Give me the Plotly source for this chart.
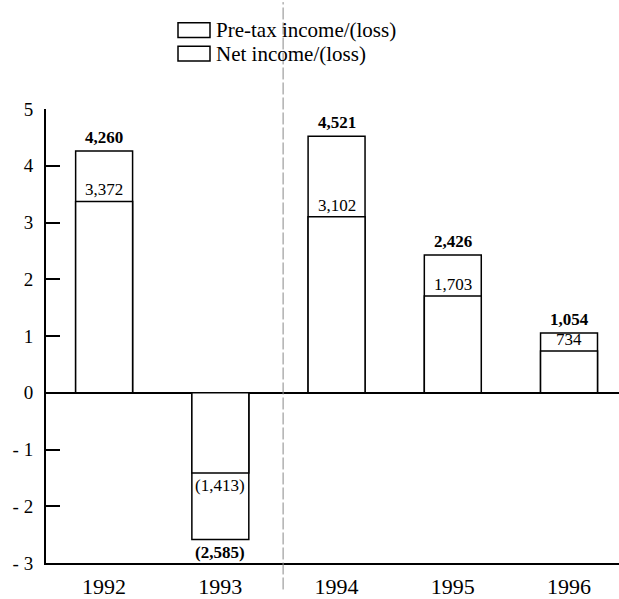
import plotly.graph_objects as go

# Results in $ thousands, shown on the axis in $ millions
years = ["1992", "1993", "1994", "1995", "1996"]
pretax_income = [4260, -2585, 4521, 2426, 1054]
net_income = [3372, -1413, 3102, 1703, 734]

y_tick_values = [-3, -2, -1, 0, 1, 2, 3, 4, 5]
y_tick_labels = ["- 3", "- 2", "- 1", "0", "1", "2", "3", "4", "5"]

legend_labels = ["Pre-tax income/(loss)", "Net income/(loss)"]

SERIF = "Liberation Serif, Times New Roman, serif"
W, H = 619, 599
M_L, M_R, M_T, M_B = 46, 0, 109, 27
X_RANGE = [-0.5, 4.43]


def fmt(v):
    s = f"{abs(v):,}"
    return f"({s})" if v < 0 else s


def px_to_paper_x(px):
    return (px - M_L) / (W - M_L - M_R)


def px_to_paper_y(py):
    return (H - M_B - py) / (H - M_T - M_B)


xs = list(range(len(years)))
pre_m = [v / 1000 for v in pretax_income]
net_m = [v / 1000 for v in net_income]

fig = go.Figure()
bar_style = dict(marker=dict(color="white", line=dict(color="black", width=1.5)),
                 width=0.49, showlegend=False, hoverinfo="skip")
fig.add_trace(go.Bar(x=xs, y=pre_m, name=legend_labels[0], **bar_style))
fig.add_trace(go.Bar(x=xs, y=net_m, name=legend_labels[1], **bar_style))

annotations = []
for x, p, n, pv, nv in zip(xs, pre_m, net_m, pretax_income, net_income):
    pos = p >= 0
    annotations.append(dict(
        x=x, y=p, xref="x", yref="y", text=f"<b>{fmt(pv)}</b>", showarrow=False,
        yanchor="bottom" if pos else "top", yshift=2 if pos else -2,
        font=dict(family=SERIF, size=17, color="black")))
    annotations.append(dict(
        x=x, y=n, xref="x", yref="y", text=fmt(nv), showarrow=False,
        yanchor="bottom" if n >= 0 else "top", yshift=0 if n >= 0 else -1,
        font=dict(family=SERIF, size=17, color="black")))

# Hand-drawn legend: outlined boxes with labels
shapes = []
legend_rows = [(21, 36), (45, 60)]
for (top, bot), label in zip(legend_rows, legend_labels):
    shapes.append(dict(type="rect", xref="paper", yref="paper",
                       x0=px_to_paper_x(178), x1=px_to_paper_x(210),
                       y0=px_to_paper_y(bot), y1=px_to_paper_y(top),
                       line=dict(color="black", width=1.5), fillcolor="white"))
    annotations.append(dict(x=px_to_paper_x(215), y=px_to_paper_y((top + bot) / 2),
                            xref="paper", yref="paper", xanchor="left", yanchor="middle",
                            text=label, showarrow=False, borderpad=0,
                            font=dict(family=SERIF, size=21, color="black")))

# Dashed divider between 1993 and 1994
shapes.append(dict(type="line", xref="x", yref="paper", x0=1.54, x1=1.54,
                   y0=px_to_paper_y(H), y1=px_to_paper_y(0),
                   line=dict(color="#888888", width=1, dash="12px,3px")))

fig.update_layout(
    width=W, height=H,
    margin=dict(l=M_L, r=M_R, t=M_T, b=M_B),
    paper_bgcolor="white", plot_bgcolor="white",
    barmode="overlay",
    annotations=annotations, shapes=shapes,
    font=dict(family=SERIF, color="black"),
    xaxis=dict(range=X_RANGE, tickvals=xs, ticktext=years, showgrid=False,
               showline=True, linecolor="black", linewidth=2, ticks="",
               zeroline=False, tickfont=dict(family=SERIF, size=22),
               ticklabelstandoff=3, fixedrange=True),
    yaxis=dict(range=[-3, 5], tickvals=y_tick_values, ticktext=y_tick_labels,
               showgrid=False, showline=True, linecolor="black", linewidth=2,
               ticks="inside", ticklen=14, tickwidth=2, tickcolor="black",
               zeroline=True, zerolinecolor="black", zerolinewidth=2,
               tickfont=dict(family=SERIF, size=19), ticklabelstandoff=7,
               fixedrange=True),
)

fig.write_html("out.html")
